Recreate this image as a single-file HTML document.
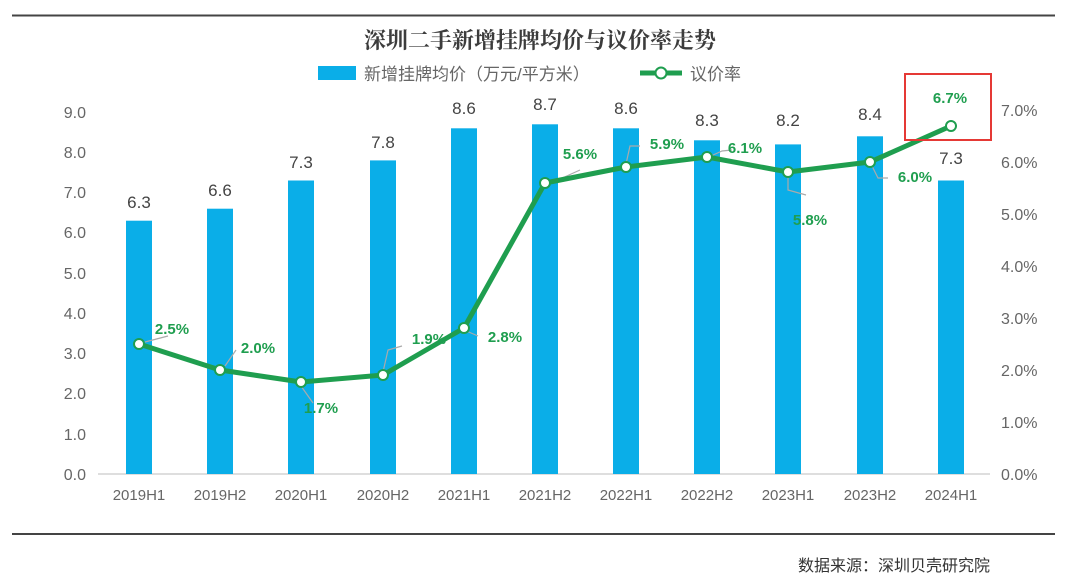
<!DOCTYPE html>
<html><head><meta charset="utf-8"><style>
html,body{margin:0;padding:0;background:#fff;}
svg{display:block;}
text{font-family:"Liberation Sans","Noto Sans CJK SC",sans-serif;}
</style></head><body>
<svg width="1080" height="581" viewBox="0 0 1080 581" xmlns="http://www.w3.org/2000/svg">
<line x1="12" y1="15.5" x2="1055" y2="15.5" stroke="#444" stroke-width="2"/>
<line x1="12" y1="534" x2="1055" y2="534" stroke="#444" stroke-width="2"/>
<text x="540" y="48" text-anchor="middle" font-size="22" font-weight="bold" fill="#3c3c3c" style="font-family:'Noto Serif CJK SC',serif">深圳二手新增挂牌均价与议价率走势</text>
<rect x="318" y="66" width="38" height="14" fill="#0aaee8"/>
<text x="364" y="80" font-size="17" fill="#666">新增挂牌均价（万元/平方米）</text>
<line x1="640" y1="73" x2="682" y2="73" stroke="#1f9e4f" stroke-width="5"/>
<circle cx="661" cy="73" r="5.5" fill="#fff" stroke="#1f9e4f" stroke-width="2"/>
<text x="690" y="80" font-size="17" fill="#666">议价率</text>
<line x1="98" y1="474" x2="990" y2="474" stroke="#d4d4d4" stroke-width="1.5"/>
<g font-size="16" fill="#666" text-anchor="end">
<text x="86" y="480">0.0</text><text x="86" y="440">1.0</text><text x="86" y="399">2.0</text><text x="86" y="359">3.0</text><text x="86" y="319">4.0</text><text x="86" y="279">5.0</text><text x="86" y="238">6.0</text><text x="86" y="198">7.0</text><text x="86" y="158">8.0</text><text x="86" y="118">9.0</text>
</g>
<g font-size="16" fill="#666" text-anchor="start">
<text x="1001" y="480">0.0%</text><text x="1001" y="428">1.0%</text><text x="1001" y="376">2.0%</text><text x="1001" y="324">3.0%</text><text x="1001" y="272">4.0%</text><text x="1001" y="220">5.0%</text><text x="1001" y="168">6.0%</text><text x="1001" y="116">7.0%</text>
</g>
<g fill="#0aaee8">
<rect x="126" y="220.7" width="26" height="253.3"/>
<rect x="207" y="208.7" width="26" height="265.3"/>
<rect x="288" y="180.5" width="26" height="293.5"/>
<rect x="370" y="160.4" width="26" height="313.6"/>
<rect x="451" y="128.3" width="26" height="345.7"/>
<rect x="532" y="124.3" width="26" height="349.7"/>
<rect x="613" y="128.3" width="26" height="345.7"/>
<rect x="694" y="140.3" width="26" height="333.7"/>
<rect x="775" y="144.4" width="26" height="329.6"/>
<rect x="857" y="136.3" width="26" height="337.7"/>
<rect x="938" y="180.5" width="26" height="293.5"/>
</g>
<g font-size="17" fill="#444" text-anchor="middle">
<text x="139" y="208">6.3</text><text x="220" y="196">6.6</text><text x="301" y="168">7.3</text><text x="383" y="148">7.8</text><text x="464" y="114">8.6</text><text x="545" y="110">8.7</text><text x="626" y="114">8.6</text><text x="707" y="126">8.3</text><text x="788" y="126">8.2</text><text x="870" y="120">8.4</text><text x="951" y="164">7.3</text>
</g>
<g font-size="15" fill="#666" text-anchor="middle">
<text x="139" y="500">2019H1</text><text x="220" y="500">2019H2</text><text x="301" y="500">2020H1</text><text x="383" y="500">2020H2</text><text x="464" y="500">2021H1</text><text x="545" y="500">2021H2</text><text x="626" y="500">2022H1</text><text x="707" y="500">2022H2</text><text x="788" y="500">2023H1</text><text x="870" y="500">2023H2</text><text x="951" y="500">2024H1</text>
</g>
<g stroke="#aaa" stroke-width="1.2" fill="none">
<path d="M145 342 L168 336"/><path d="M225 366 L236 350"/><path d="M301 386 L313 403"/><path d="M383 372 L388 350 L402 346"/><path d="M464 330 L478 336"/><path d="M549 184 L580 170"/><path d="M626 164 L630 146 L640 146"/><path d="M711 156 L722 151 L732 150"/><path d="M788 176 L788 190 L806 195"/><path d="M870 162 L878 178 L888 178"/>
</g>
<polyline points="139,344 220,370 301,382 383,375 464,328 545,183 626,167 707,157 788,172 870,162 951,126" fill="none" stroke="#1f9e4f" stroke-width="5" stroke-linejoin="round"/>
<g fill="#fff" stroke="#1f9e4f" stroke-width="2">
<circle cx="139" cy="344" r="5"/><circle cx="220" cy="370" r="5"/><circle cx="301" cy="382" r="5"/><circle cx="383" cy="375" r="5"/><circle cx="464" cy="328" r="5"/><circle cx="545" cy="183" r="5"/><circle cx="626" cy="167" r="5"/><circle cx="707" cy="157" r="5"/><circle cx="788" cy="172" r="5"/><circle cx="870" cy="162" r="5"/><circle cx="951" cy="126" r="5"/>
</g>
<g font-size="15" font-weight="bold" fill="#1f9e4f" text-anchor="middle">
<text x="172" y="334">2.5%</text><text x="258" y="353">2.0%</text><text x="321" y="413">1.7%</text><text x="429" y="344">1.9%</text><text x="505" y="342">2.8%</text><text x="580" y="159">5.6%</text><text x="667" y="149">5.9%</text><text x="745" y="153">6.1%</text><text x="810" y="225">5.8%</text><text x="915" y="182">6.0%</text><text x="950" y="103">6.7%</text>
</g>
<rect x="905" y="74" width="86" height="66" fill="none" stroke="#e53935" stroke-width="2"/>
<text x="990" y="571" font-size="16" fill="#333" text-anchor="end" style="font-family:'Noto Sans CJK SC',sans-serif">数据来源：深圳贝壳研究院</text>
</svg>
</body></html>
